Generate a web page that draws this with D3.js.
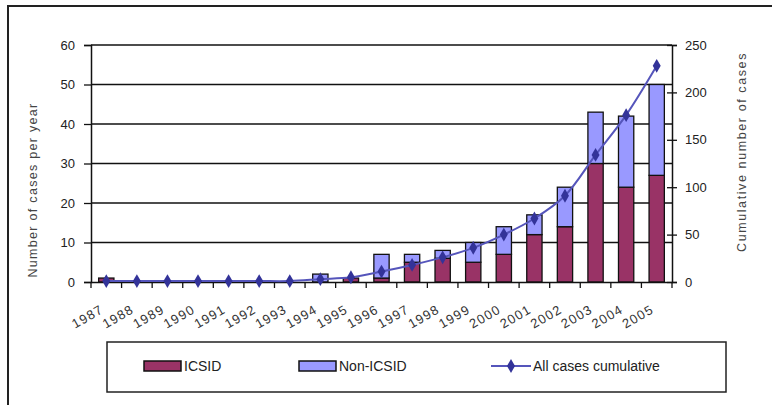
<!DOCTYPE html>
<html>
<head>
<meta charset="utf-8">
<script src="https://cdn.jsdelivr.net/npm/d3@7"></script>
<style>
  body { margin: 0; background: #fff; }
  svg { display: block; font-family: "Liberation Sans", Arial, sans-serif; }
</style>
</head>
<body>
<svg id="chart" width="772" height="405"></svg>
<script>
const years = ["1987","1988","1989","1990","1991","1992","1993","1994","1995","1996",
               "1997","1998","1999","2000","2001","2002","2003","2004","2005"];
const icsid    = [1, 0, 0, 0, 0, 0, 0, 0, 1, 1, 5, 6, 5, 7, 12, 14, 30, 24, 27];
const nonIcsid = [0, 0, 0, 0, 0, 0, 0, 2, 0, 6, 2, 2, 5, 7, 5, 10, 13, 18, 23];
const cumulative = [1, 1, 1, 1, 1, 1, 1, 3, 5, 11, 18, 26, 36, 50, 67, 91, 134, 176, 228];
const leftTicks = [0, 10, 20, 30, 40, 50, 60];
const rightTicks = [0, 50, 100, 150, 200, 250];

const svg = d3.select("#chart");
const plotL = 91, plotR = 672, plotT = 45, plotB = 282;

// outer frame
svg.append("path")
  .attr("d", "M8,405 L8,6 L772,6")
  .attr("fill", "none").attr("stroke", "#222").attr("stroke-width", 2);

const x = d3.scaleBand().domain(years).range([plotL, plotR]).paddingInner(0.5).paddingOuter(0.25);
const xb = d3.scaleBand().domain(years).range([plotL, plotR]);
const y = d3.scaleLinear().domain([0, 60]).range([plotB, plotT]);
const y2 = d3.scaleLinear().domain([0, 250]).range([plotB, plotT]);

// gridlines
svg.append("g").selectAll("line").data(leftTicks.slice(1)).enter().append("line")
  .attr("x1", plotL).attr("x2", plotR)
  .attr("y1", d => y(d)).attr("y2", d => y(d))
  .attr("stroke", "#111").attr("stroke-width", 1.3);

// stacked bars
const rows = years.map((yr, i) => ({ year: yr, icsid: icsid[i], non: nonIcsid[i] }));
const stack = d3.stack().keys(["icsid", "non"])(rows);
const colors = { icsid: "#993366", non: "#9999ff" };
svg.append("g").selectAll("g").data(stack).enter().append("g")
  .attr("fill", d => colors[d.key])
  .selectAll("rect").data(d => d.filter(p => p[1] > p[0])).enter().append("rect")
  .attr("x", d => x(d.data.year))
  .attr("width", x.bandwidth())
  .attr("y", d => y(d[1]))
  .attr("height", d => y(d[0]) - y(d[1]))
  .attr("stroke", "#111").attr("stroke-width", 1.3);

// left axis
const yAxis = svg.append("g").attr("transform", `translate(${plotL},0)`)
  .call(d3.axisLeft(y).tickValues(leftTicks).tickSize(7).tickPadding(9));
// right axis
const yAxis2 = svg.append("g").attr("transform", `translate(${plotR},0)`)
  .call(d3.axisRight(y2).tickValues(rightTicks).tickSize(5).tickPadding(8));
yAxis2.selectAll(".tick line").attr("x1", -5);
// x axis
const xAxis = svg.append("g").attr("transform", `translate(0,${plotB})`)
  .call(d3.axisBottom(xb).tickSize(0).tickFormat(""));
xAxis.selectAll(".tick").remove();
xAxis.selectAll("line.b").data(years.concat(["end"])).enter().append("line")
  .attr("x1", (d, i) => plotL + i * xb.step()).attr("x2", (d, i) => plotL + i * xb.step())
  .attr("y1", 0).attr("y2", 6).attr("stroke", "#111").attr("stroke-width", 1.3);
xAxis.selectAll("text.lbl").data(years).enter().append("text")
  .attr("class", "lbl")
  .attr("transform", d => `translate(${xb(d) + xb.bandwidth() / 2 - 2},${30}) rotate(-30)`)
  .attr("text-anchor", "end")
  .attr("font-size", 13).attr("letter-spacing", 1.2).attr("fill", "#333")
  .text(d => d);

[yAxis, yAxis2, xAxis].forEach(g => {
  g.selectAll(".domain").attr("stroke", "#111").attr("stroke-width", 1.5);
  g.selectAll(".tick line").attr("stroke", "#111").attr("stroke-width", 1.3);
  g.selectAll(".tick text").attr("font-size", 13).attr("fill", "#222")
    .style("font-family", "'Liberation Sans', Arial, sans-serif");
});

// cumulative line
const cx = d => xb(d) + xb.bandwidth() / 2;
const line = d3.line().x((d, i) => cx(years[i])).y(d => y2(d)).curve(d3.curveCatmullRom);
svg.append("path").datum(cumulative)
  .attr("d", line).attr("fill", "none")
  .attr("stroke", "#5555bb").attr("stroke-width", 2);
const diamond = d3.symbol().type(d3.symbolDiamond).size(55);
svg.append("g").selectAll("path").data(cumulative).enter().append("path")
  .attr("d", diamond)
  .attr("transform", (d, i) => `translate(${cx(years[i])},${y2(d)})`)
  .attr("fill", "#333399");

// axis titles
svg.append("text")
  .attr("transform", "translate(37,190) rotate(-90)")
  .attr("text-anchor", "middle").attr("font-size", 12.5).attr("letter-spacing", 1.3)
  .attr("fill", "#444")
  .text("Number of cases per year");
svg.append("text")
  .attr("transform", "translate(746,152) rotate(-90)")
  .attr("text-anchor", "middle").attr("font-size", 12.5).attr("letter-spacing", 1.6)
  .attr("fill", "#444")
  .text("Cumulative number of cases");

// legend
const lg = svg.append("g");
lg.append("rect").attr("x", 107).attr("y", 342).attr("width", 619).attr("height", 50)
  .attr("fill", "none").attr("stroke", "#222").attr("stroke-width", 1.5);
const legendItems = [
  { label: "ICSID", type: "bar", color: colors.icsid, x: 144 },
  { label: "Non-ICSID", type: "bar", color: colors.non, x: 299 },
  { label: "All cases cumulative", type: "line", color: "#5555bb", x: 491 }
];
legendItems.forEach(it => {
  if (it.type === "bar") {
    lg.append("rect").attr("x", it.x).attr("y", 361).attr("width", 37).attr("height", 10)
      .attr("fill", it.color).attr("stroke", "#111").attr("stroke-width", 1.5);
  } else {
    lg.append("line").attr("x1", it.x).attr("x2", it.x + 40).attr("y1", 366).attr("y2", 366)
      .attr("stroke", it.color).attr("stroke-width", 2);
    lg.append("path").attr("d", diamond).attr("transform", `translate(${it.x + 20},366)`)
      .attr("fill", "#333399");
  }
  lg.append("text").attr("x", it.x + (it.type === "bar" ? 40 : 42)).attr("y", 371)
    .attr("font-size", 14).attr("fill", "#222").text(it.label);
});
</script>
</body>
</html>
